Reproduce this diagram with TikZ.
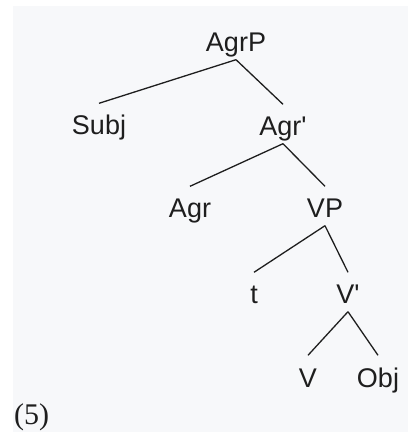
\documentclass[tikz,border=0pt]{standalone}
\usepackage{fontspec}
\setmainfont{Liberation Serif}
\newfontfamily\arialish{Liberation Sans}
\definecolor{panel}{RGB}{247,248,250}
\definecolor{ink}{RGB}{30,30,30}
\tikzset{
  lbl/.style={anchor=base, inner sep=0pt, text height=31.5pt, text depth=7.5pt,
    font=\arialish\fontsize{27}{32}\selectfont, text=ink},
  branch/.style={draw=ink, line width=1.3pt}
}
\begin{document}
\begin{tikzpicture}[x=1pt,y=1pt]
\useasboundingbox (0,0) rectangle (408,432);
\fill[panel] (13,0) rectangle (408,426);
\node[lbl] (AgrP) at (236,380) {AgrP};
\node[lbl] (Subj) at (99,297) {Subj};
\node[lbl] (Agrbar) at (283,296) {Agr'};
\node[lbl] (Agr) at (190,214) {Agr};
\node[lbl] (VP) at (325,214) {VP};
\node[lbl] (t) at (254,128) {t};
\node[lbl] (Vbar) at (348,128) {V'};
\node[lbl] (V) at (308,45) {V};
\node[lbl] (Obj) at (378,45) {Obj};
\node[anchor=base west, inner sep=0pt, font=\fontsize{30}{34}\selectfont, text=ink] (ex) at (14,8) {(5)};
\draw[branch] (AgrP.south) -- (Subj.north);
\draw[branch] (AgrP.south) -- (Agrbar.north);
\draw[branch] (Agrbar.south) -- (Agr.north);
\draw[branch] (Agrbar.south) -- (VP.north);
\draw[branch] (VP.south) -- (t.north);
\draw[branch] (VP.south) -- (Vbar.north);
\draw[branch] (Vbar.south) -- (V.north);
\draw[branch] (Vbar.south) -- (Obj.north);
\end{tikzpicture}
\end{document}
